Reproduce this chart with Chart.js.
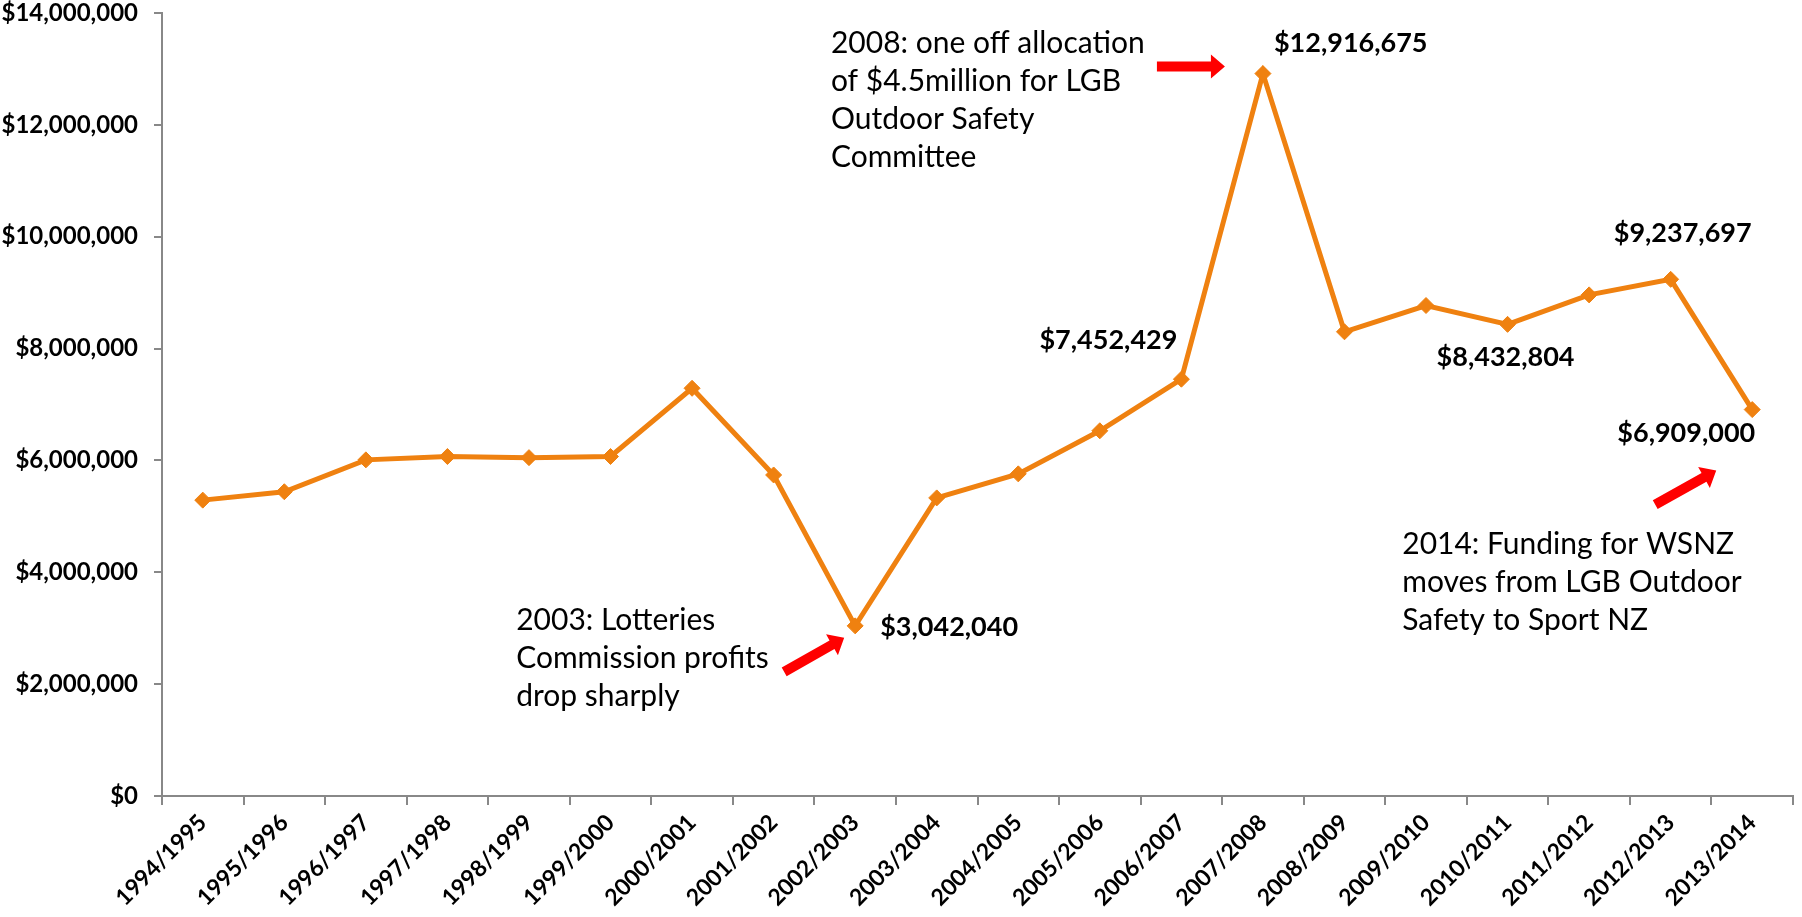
<!DOCTYPE html>
<html>
<head>
<meta charset="utf-8">
<script src="https://cdn.jsdelivr.net/npm/chart.js"></script>
<style>
  html, body { margin: 0; padding: 0; background: #fff; }
  #wrap { width: 1802px; height: 917px; }
</style>
</head>
<body>
<div id="wrap"><canvas id="fundingChart" width="1802" height="917"></canvas></div>
<script>
// Datos del gráfico
const years = ['1994/1995', '1995/1996', '1996/1997', '1997/1998', '1998/1999', '1999/2000',
  '2000/2001', '2001/2002', '2002/2003', '2003/2004', '2004/2005', '2005/2006', '2006/2007',
  '2007/2008', '2008/2009', '2009/2010', '2010/2011', '2011/2012', '2012/2013', '2013/2014'];
const funding = [5290000, 5440000, 6010000, 6070000, 6050000, 6070000, 7290000, 5740000,
  3042040, 5330000, 5760000, 6530000, 7452429, 12916675, 8300000, 8770000, 8432804,
  8960000, 9237697, 6909000];
const yTicks = [0, 2000000, 4000000, 6000000, 8000000, 10000000, 12000000, 14000000];

const ORANGE = '#EF8110';
const FONT = 'Lato, "Open Sans", sans-serif';

function money(v) {
  return '$' + Math.round(v).toLocaleString('en-US');
}

// etiquetas de valor: indice, alineacion y desplazamiento respecto al punto
const valueLabels = [
  { i: 8, align: 'left', dx: 25, dy: 1 },
  { i: 12, align: 'right', dx: -4, dy: -39 },
  { i: 13, align: 'left', dx: 11, dy: -30 },
  { i: 16, align: 'center', dx: -2, dy: 33 },
  { i: 18, align: 'center', dx: 12, dy: -46 },
  { i: 19, align: 'right', dx: 3, dy: 24 }
];

// notas de texto con flechas
const notes = [
  { i: 13, lines: ['2008: one off allocation', 'of $4.5million for LGB', 'Outdoor Safety', 'Committee'],
    dx: -432, dy: -30, arrow: [-106, -7, -38, -7] },
  { i: 8, lines: ['2003: Lotteries', 'Commission profits', 'drop sharply'],
    dx: -339, dy: -6, arrow: [-71, 46, -11, 12] },
  { i: 19, lines: ['2014: Funding for WSNZ', 'moves from LGB Outdoor', 'Safety to Sport NZ'],
    dx: -350, dy: 135, arrow: [-97, 95, -36, 61] }
];

function drawArrow(ctx, x1, y1, x2, y2) {
  const ang = Math.atan2(y2 - y1, x2 - x1);
  const len = Math.hypot(x2 - x1, y2 - y1);
  const shaft = 5, head = 12, headLen = 14;
  ctx.save();
  ctx.translate(x1, y1);
  ctx.rotate(ang);
  ctx.beginPath();
  ctx.moveTo(0, -shaft);
  ctx.lineTo(len - headLen, -shaft);
  ctx.lineTo(len - headLen, -head);
  ctx.lineTo(len, 0);
  ctx.lineTo(len - headLen, head);
  ctx.lineTo(len - headLen, shaft);
  ctx.lineTo(0, shaft);
  ctx.closePath();
  ctx.fillStyle = '#FF0000';
  ctx.fill();
  ctx.restore();
}

const annotationPlugin = {
  id: 'notas',
  afterDatasetsDraw(chart) {
    const ctx = chart.ctx;
    const meta = chart.getDatasetMeta(0);
    ctx.save();
    ctx.fillStyle = '#000';
    ctx.textBaseline = 'middle';
    ctx.font = 'bold 27px ' + FONT;
    valueLabels.forEach(l => {
      const p = meta.data[l.i];
      ctx.textAlign = l.align;
      ctx.fillText(money(funding[l.i]), p.x + l.dx, p.y + l.dy);
    });
    ctx.font = '30px ' + FONT;
    ctx.textAlign = 'left';
    notes.forEach(n => {
      const p = meta.data[n.i];
      n.lines.forEach((t, k) => {
        ctx.fillText(t, p.x + n.dx, p.y + n.dy + k * 38);
      });
      const a = n.arrow;
      drawArrow(ctx, p.x + a[0], p.y + a[1], p.x + a[2], p.y + a[3]);
    });
    ctx.restore();
  }
};

new Chart(document.getElementById('fundingChart'), {
  type: 'line',
  data: {
    labels: years,
    datasets: [{
      data: funding,
      borderColor: ORANGE,
      backgroundColor: ORANGE,
      borderWidth: 5,
      pointStyle: 'rectRot',
      pointRadius: 8,
      pointBorderWidth: 1,
      pointBackgroundColor: ORANGE,
      pointBorderColor: ORANGE,
      tension: 0,
      fill: false
    }]
  },
  options: {
    responsive: false,
    animation: false,
    layout: { padding: { top: 0, right: 2, left: 0, bottom: 0 } },
    plugins: {
      legend: { display: false },
      tooltip: { enabled: false }
    },
    scales: {
      x: {
        offset: true,
        grid: { offset: true, drawOnChartArea: false, drawTicks: true, tickLength: 9, color: '#888', lineWidth: 2 },
        border: { display: true, color: '#888', width: 2 },
        ticks: {
          color: '#000',
          font: { family: FONT, size: 23, weight: 'bold' },
          maxRotation: 45,
          minRotation: 45,
          autoSkip: false,
          padding: 4
        },
        afterFit(scale) { scale.height = 121; }
      },
      y: {
        min: 0,
        max: 14000000,
        afterBuildTicks(scale) { scale.ticks = yTicks.map(v => ({ value: v })); },
        grid: { drawOnChartArea: false, drawTicks: true, tickLength: 8, color: '#888', lineWidth: 2 },
        border: { display: true, color: '#888', width: 2 },
        ticks: {
          color: '#000',
          font: { family: FONT, size: 24, weight: 'bold' },
          padding: 16,
          callback: v => money(v)
        },
        afterFit(scale) {
          scale.width = 162;
          scale.paddingTop = 13;
          scale.paddingBottom = 0;
        }
      }
    }
  },
  plugins: [annotationPlugin]
});
</script>
</body>
</html>
